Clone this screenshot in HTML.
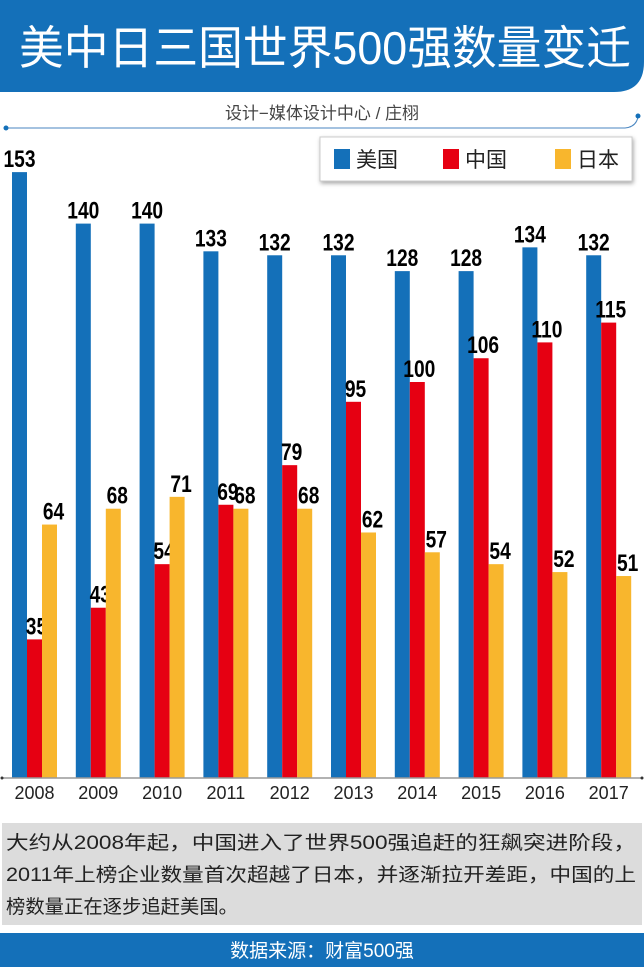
<!DOCTYPE html>
<html><head><meta charset="utf-8"><style>
html,body{margin:0;padding:0;background:#fff;width:644px;height:967px;overflow:hidden}
svg{display:block}
text{font-family:"Liberation Sans","Noto Sans CJK SC",sans-serif}
</style></head><body>
<svg id="chart" width="644" height="967" viewBox="0 0 644 967">
<path d="M0 0H644V62Q644 92 614 92H0Z" fill="#1470b9"/>
<text x="325" y="64" text-anchor="middle" fill="#fff" font-size="46" textLength="612" lengthAdjust="spacingAndGlyphs">美中日三国世界500强数量变迁</text>
<text x="322" y="119" text-anchor="middle" fill="#444" font-size="17">设计−媒体设计中心 / 庄栩</text>
<path d="M6 128H625Q636 127 638 117" fill="none" stroke="#4a86c0" stroke-width="1"/>
<circle cx="6" cy="128" r="2.5" fill="#1470b9"/><circle cx="638" cy="116" r="2.5" fill="#1470b9"/>
<rect x="320" y="137" width="312" height="44" fill="#fff" stroke="#ccc" style="filter:drop-shadow(1px 2px 2px rgba(0,0,0,.35))"/>
<g><rect x="334" y="149" width="16" height="20" fill="#1470b9"/><text x="356" y="167" font-size="21" fill="#222">美国</text></g>
<g><rect x="443" y="149" width="16" height="20" fill="#e60012"/><text x="465" y="167" font-size="21" fill="#222">中国</text></g>
<g><rect x="555" y="149" width="16" height="20" fill="#f8b62d"/><text x="577" y="167" font-size="21" fill="#222">日本</text></g>
<g id="bars"></g>
<line x1="2" y1="778" x2="642" y2="778" stroke="#999" stroke-width="1.5"/>
<circle cx="2" cy="778" r="1.5" fill="#333"/><circle cx="642" cy="778" r="1.5" fill="#333"/>
<rect x="2" y="823" width="640" height="102" fill="#dcdcdc"/>
<g font-size="19" fill="#222">
<text x="6" y="849" textLength="630" lengthAdjust="spacingAndGlyphs">大约从2008年起，中国进入了世界500强追赶的狂飙突进阶段，</text>
<text x="6" y="881" textLength="630" lengthAdjust="spacingAndGlyphs">2011年上榜企业数量首次超越了日本，并逐渐拉开差距，中国的上</text>
<text x="6" y="913" textLength="232" lengthAdjust="spacingAndGlyphs">榜数量正在逐步追赶美国。</text>
</g>
<rect x="0" y="933" width="644" height="34" fill="#1470b9"/>
<text x="322" y="957" text-anchor="middle" fill="#fff" font-size="19">数据来源：财富500强</text>
</svg>
<script>
const years=["2008","2009","2010","2011","2012","2013","2014","2015","2016","2017"];
const usa=[153,140,140,133,132,132,128,128,134,132];
const china=[35,43,54,69,79,95,100,106,110,115];
const japan=[64,68,71,68,68,62,57,54,52,51];
const NS="http://www.w3.org/2000/svg";
const base=778, scaleY=3.96, x0=12, pitch=63.8, bw=15;
const yPos=v=>base-v*scaleY;
const g=document.getElementById('bars');
const series=[[usa,"#1470b9","usa"],[china,"#e60012","china"],[japan,"#f8b62d","japan"]];
years.forEach((yr,i)=>{
  const gx=x0+i*pitch;
  series.forEach(([arr,col,nm],j)=>{
    const v=arr[i];
    const r=document.createElementNS(NS,'rect');
    r.setAttribute('x',gx+j*bw);r.setAttribute('y',yPos(v));
    r.setAttribute('width',bw);r.setAttribute('height',base-yPos(v));
    r.setAttribute('fill',col);
    
    
    g.appendChild(r);
    const cx=gx+j*bw+bw/2+(j==0?0:(j==2?4:2));
    const t=document.createElementNS(NS,'text');
    t.setAttribute('x',cx);t.setAttribute('y',yPos(v)-5);
    t.setAttribute('text-anchor','middle');t.setAttribute('font-size','24');
    t.setAttribute('font-weight','bold');t.setAttribute('fill','#000');
    t.setAttribute('transform','translate('+cx+',0) scale(0.8,1) translate('+(-cx)+',0)');
    t.textContent=v;
    
    
    g.appendChild(t);
  });
  const l=document.createElementNS(NS,'text');
  l.setAttribute('x',gx+22.5);l.setAttribute('y',799);
  l.setAttribute('text-anchor','middle');l.setAttribute('font-size','18');l.setAttribute('fill','#222');
  l.textContent=yr;
  
  
  g.appendChild(l);
});
</script>
</body></html>
